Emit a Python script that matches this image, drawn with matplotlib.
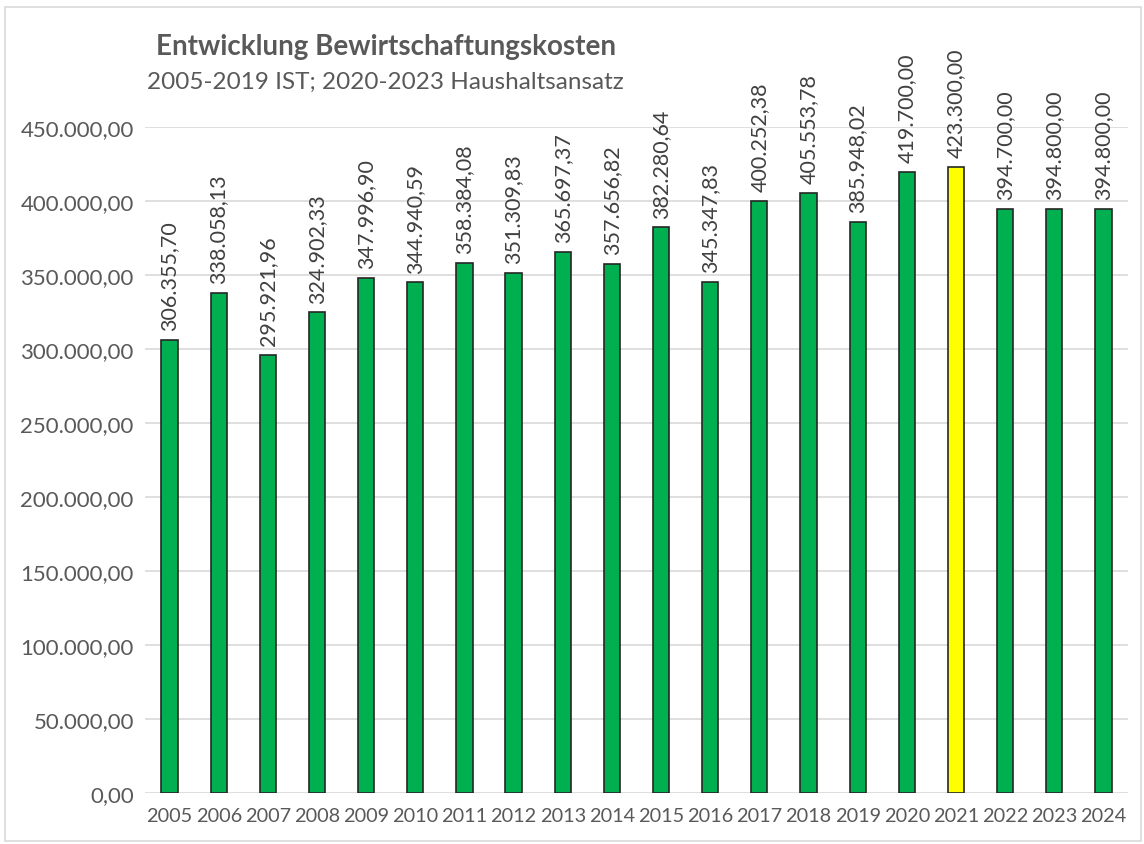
import matplotlib.pyplot as plt
from matplotlib.patches import Rectangle
from matplotlib.ticker import FuncFormatter

plt.rcParams['font.family'] = ['Lato', 'DejaVu Sans']

years = ['2005', '2006', '2007', '2008', '2009', '2010', '2011', '2012', '2013', '2014',
         '2015', '2016', '2017', '2018', '2019', '2020', '2021', '2022', '2023', '2024']
kosten = [306355.70, 338058.13, 295921.96, 324902.33, 347996.90, 344940.59, 358384.08,
          351309.83, 365697.37, 357656.82, 382280.64, 345347.83, 400252.38, 405553.78,
          385948.02, 419700.00, 423300.00, 394700.00, 394800.00, 394800.00]
highlight = '2021'

GREEN = '#00b050'
YELLOW = '#ffff00'
GRAY = '#595959'


def de_fmt(v):
    s = '{:,.2f}'.format(v)
    return s.replace(',', 'X').replace('.', ',').replace('X', '.')


fig = plt.figure(figsize=(11.44, 8.45), dpi=100)
ax = fig.add_axes([0.1267, 0.0604, 0.8593, 0.7881])

colors = [YELLOW if y == highlight else GREEN for y in years]
x = range(len(years))
bars = ax.bar(x, kosten, width=0.33, color=colors, edgecolor='#262626', linewidth=1.2, zorder=3)

for b, v in zip(bars, kosten):
    ax.text(b.get_x() + b.get_width() / 2, v + 6500, de_fmt(v), rotation=90,
            ha='center', va='bottom', fontsize=15.5, color='#404040', clip_on=False)

ax.set_xlim(-0.5, len(years) - 0.5)
ax.set_ylim(0, 450000)
ax.set_yticks(range(0, 450001, 50000))
ax.yaxis.set_major_formatter(FuncFormatter(lambda v, p: de_fmt(v)))
ax.set_xticks(list(x))
ax.set_xticklabels(years)
ax.tick_params(axis='both', length=0, labelcolor=GRAY)
ax.tick_params(axis='y', pad=8, labelsize=16)
ax.tick_params(axis='x', pad=10, labelsize=14.3)
ax.grid(axis='y', color='#d9d9d9', linewidth=1.2, zorder=0)
for s in ax.spines.values():
    s.set_visible(False)

fig.text(0.337, 0.944, 'Entwicklung Bewirtschaftungskosten', ha='center', va='center',
         fontsize=20, fontweight='bold', color=GRAY)
fig.text(0.337, 0.903, '2005-2019 IST; 2020-2023 Haushaltsansatz', ha='center', va='center',
         fontsize=17.5, color=GRAY)

fig.patches.append(Rectangle((0.004, 0.003), 0.993, 0.988, transform=fig.transFigure,
                             fill=False, edgecolor='#d9d9d9', linewidth=1.2))

fig.savefig('out.png', dpi=100)
